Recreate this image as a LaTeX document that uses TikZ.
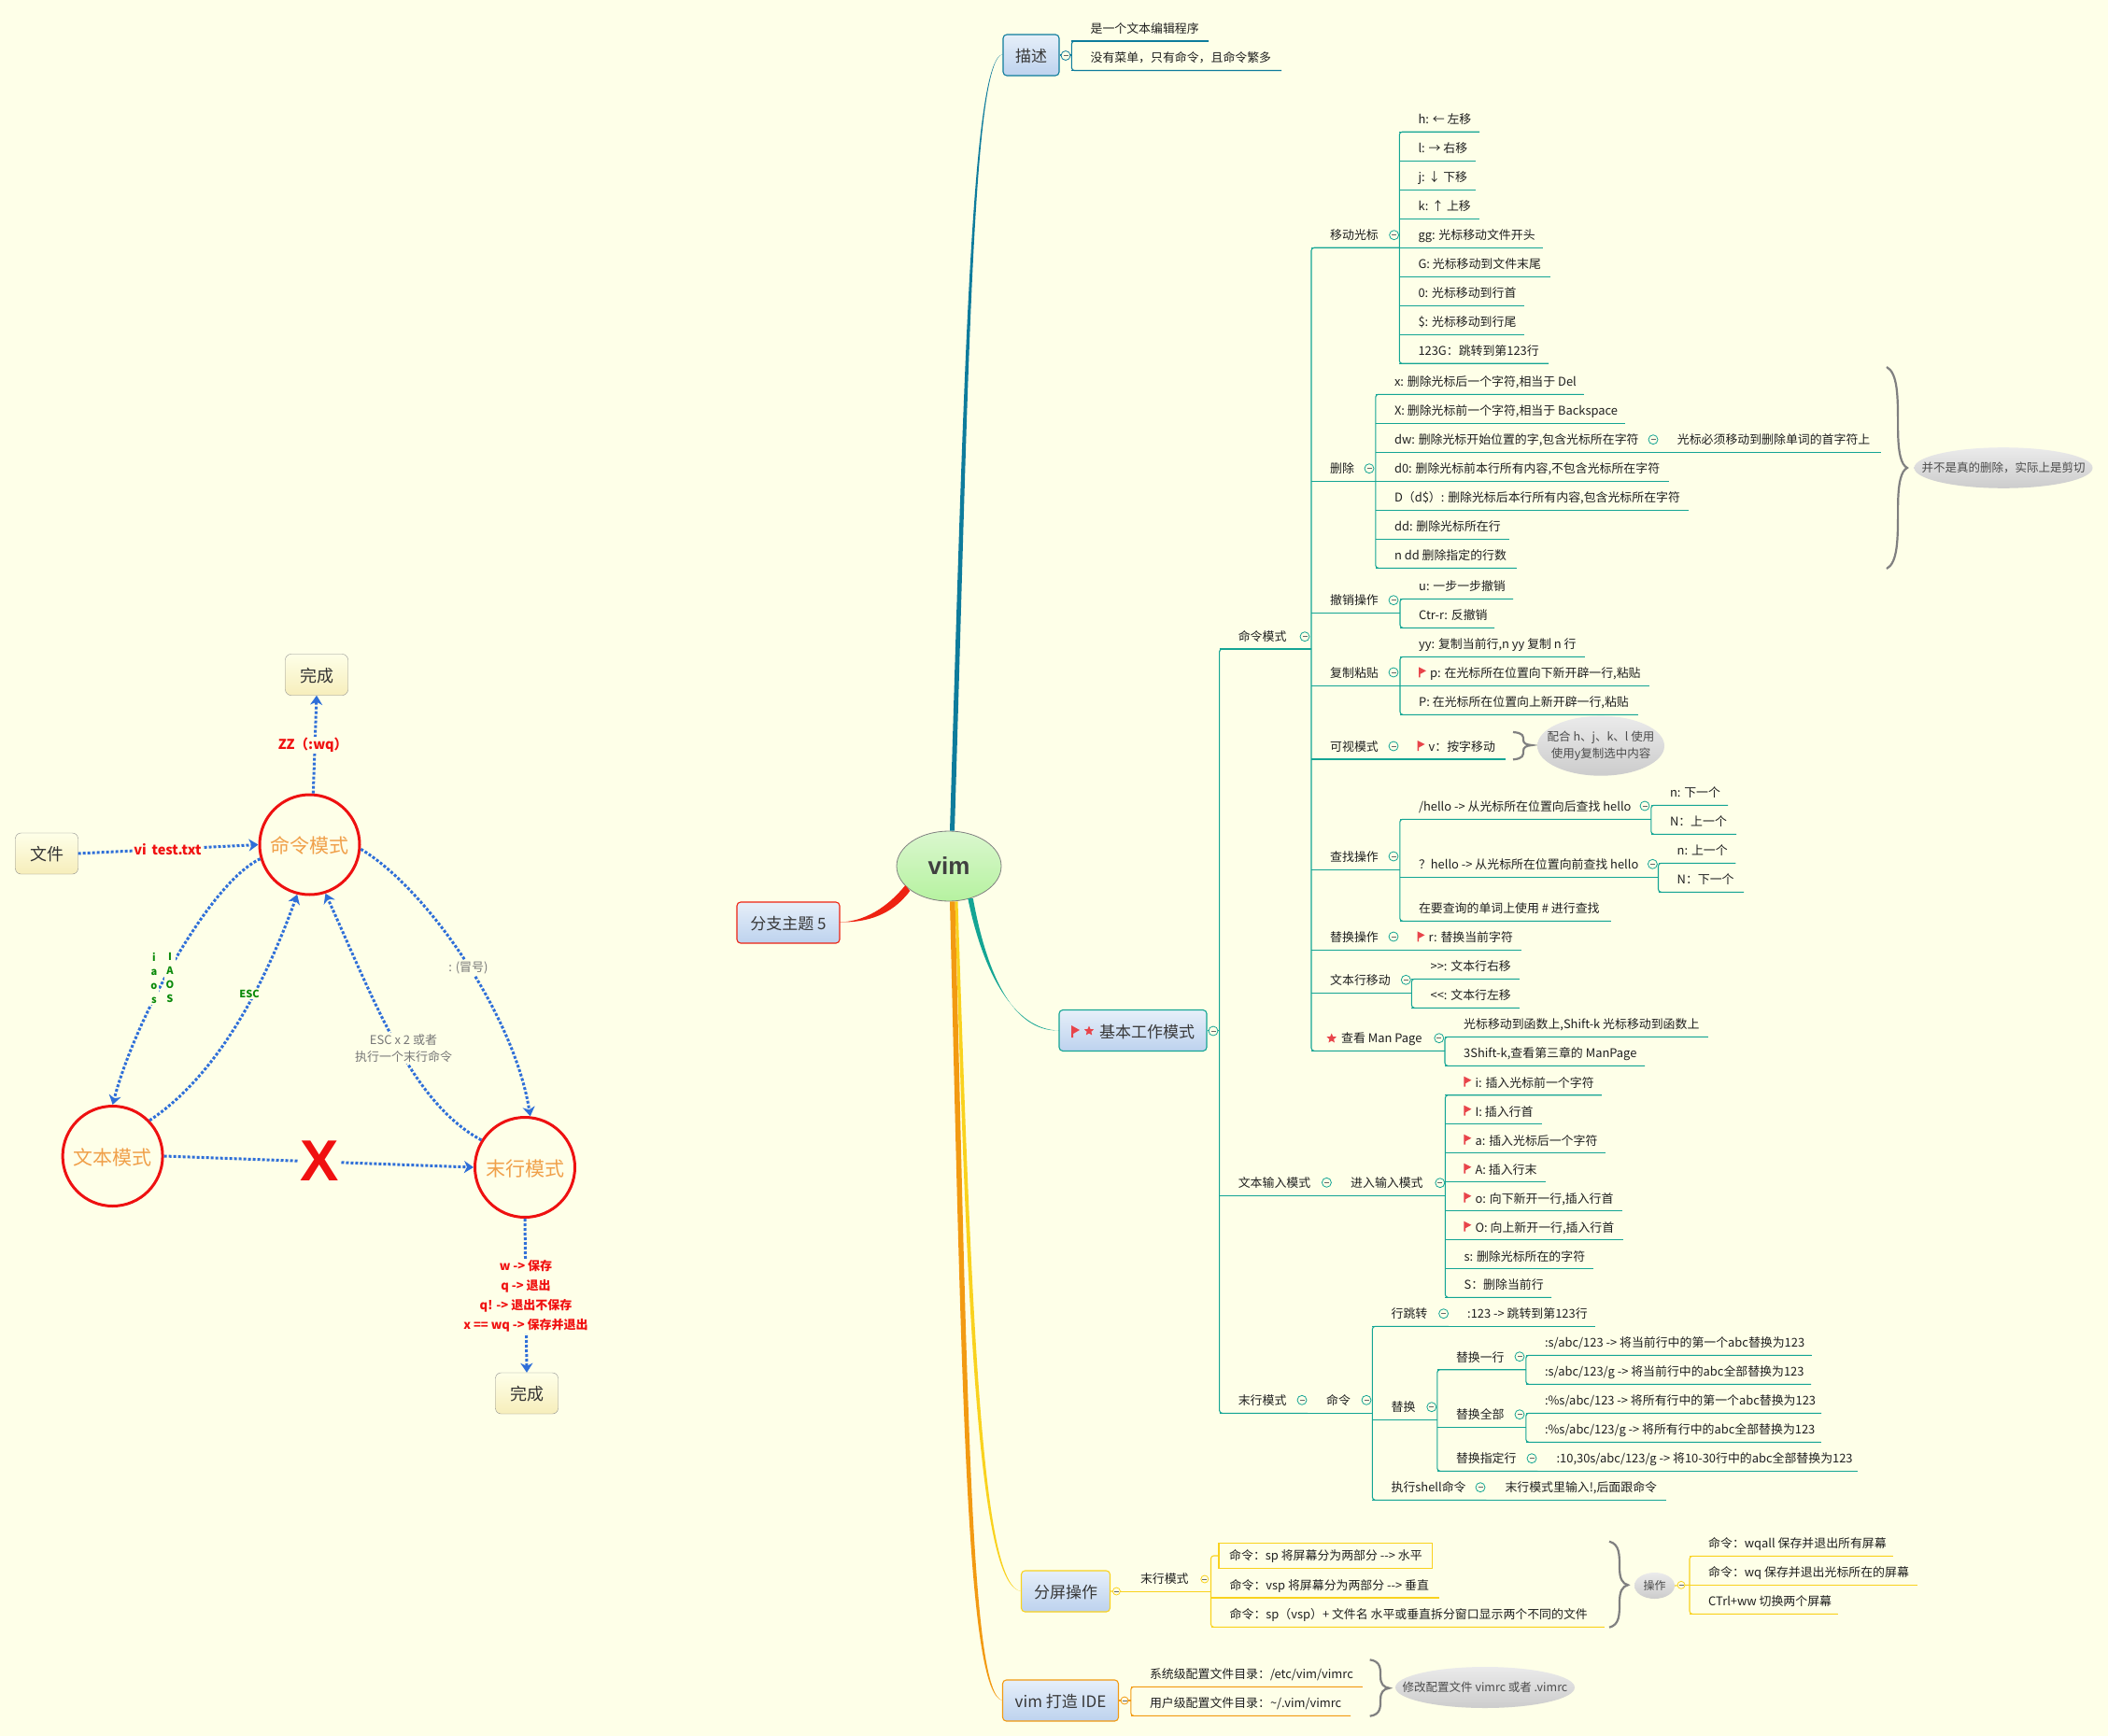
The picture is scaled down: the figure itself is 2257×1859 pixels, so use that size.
\documentclass[tikz,border=0pt]{standalone}
\usepackage{fontspec}
\setmainfont{Noto Sans CJK SC}
\newfontfamily\latinbold{Liberation Sans}
\usetikzlibrary{shapes.geometric,arrows.meta}
\definecolor{paper}{HTML}{FEFFE8}
\definecolor{flowblue}{HTML}{2F6FD8}
\definecolor{ringred}{HTML}{EE1111}
\definecolor{hotred}{HTML}{F01010}
\definecolor{modeorange}{HTML}{F0A04A}
\definecolor{okgreen}{HTML}{0A8A0A}
\definecolor{softgray}{HTML}{777777}
\definecolor{bluebranch}{HTML}{0E7C9C}
\definecolor{tealbranch}{HTML}{14A594}
\definecolor{yellowbranch}{HTML}{F9D21E}
\definecolor{orangebranch}{HTML}{F29A12}
\definecolor{redbranch}{HTML}{EE2211}
\definecolor{flagred}{HTML}{E8444A}
\definecolor{topictop}{HTML}{E6EFF9}
\definecolor{topicbottom}{HTML}{BDD2EE}
\definecolor{vimtop}{HTML}{DAF7CE}
\definecolor{vimbottom}{HTML}{B6F2A0}
\colorlet{twigcolor}{tealbranch}
\tikzset{
  twig/.style={draw=twigcolor,line width=1.1pt},
  leaftext/.style={anchor=west,inner sep=0pt,text=black!88,text height=10pt,text depth=3pt,
    font=\fontsize{12.9}{16}\selectfont},
  fold/.style={circle,draw=twigcolor,fill=paper,line width=.8pt,minimum size=10pt,inner sep=0pt,
    path picture={\draw[black!60,line width=.6pt] ([xshift=-2.5pt]path picture bounding box.center)
      -- ([xshift=2.5pt]path picture bounding box.center);}},
  topic/.style={rectangle,rounded corners=4pt,draw=twigcolor,line width=1.1pt,top color=topictop,
    bottom color=topicbottom,minimum height=44pt,inner sep=0pt,text=black!78,text height=15pt,text depth=0pt,
    font=\fontsize{17}{20}\selectfont},
  callout/.style={ellipse,top color=black!8,bottom color=black!20,inner sep=0pt},
  calltext/.style={inner sep=0pt,text=black!70,align=center,font=\fontsize{12.5}{18}\selectfont},
  sumbrace/.style={draw=black!50,line width=2.2pt},
  smallbox/.style={rectangle,rounded corners=6pt,draw=black!45,top color=paper,bottom color=yellow!55!brown!30!white,
    minimum width=67pt,minimum height=44pt,inner sep=0pt,text=black!80,text height=15.7pt,text depth=0pt,
    font=\fontsize{18}{20}\selectfont},
  modering/.style={circle,draw=ringred,line width=3pt,minimum size=107pt,inner sep=0pt,text=modeorange,
    text height=18pt,text depth=0pt,font=\fontsize{21}{24}\selectfont},
  flow/.style={draw=flowblue,line width=3pt,dash pattern=on 3pt off 2pt,
    -{Stealth[inset=3pt,length=10pt,width=13pt]}},
  lab/.style={fill=paper,inner sep=1.5pt,align=center},
  redlab/.style={lab,text=hotred,font=\bfseries\fontsize{14.5}{21}\selectfont},
  smallred/.style={lab,text=hotred,font=\bfseries\fontsize{13}{21}\selectfont},
  greenlab/.style={lab,text=okgreen,font=\bfseries\fontsize{11}{15}\selectfont},
  graylab/.style={lab,text=softgray,font=\fontsize{13}{18}\selectfont},
  starmark/.style={star,star points=5,star point ratio=2.2,fill=flagred,minimum size=11pt,inner sep=0pt}
}
\newcommand{\leafnode}[5]{%
  \coordinate (#1s) at (#2,#3);
  \coordinate (#1e) at (#4,#3);
  \draw[twig] (#1s) -- (#1e);
  \node[leaftext] (#1) at ({#2+20},{#3-12}) {#5};
}
\newcommand{\flagmark}[2]{%
  \fill[flagred] ({#1},{#2-7}) -- ({#1+8},{#2-3}) -- ({#1+1.6},{#2+.5}) -- ({#1+1.6},{#2+4}) -- ({#1},{#2+4}) -- cycle;
}
\newcommand{\flagleaf}[5]{%
  \leafnode{#1}{#2}{#3}{#4}{\hspace*{12pt}#5}
  \flagmark{#2+20}{#3-13}
}
\newcommand{\twigspine}[2]{%
  \draw[twig,rounded corners=3pt] (#1e) -- (#1s) -- (#2s) -- (#2e);
}
% x start, x tip, y top, y tip, y bottom
\newcommand{\sumcurve}[5]{%
  \draw[sumbrace] (#1,#3) .. controls ({#1+.55*(#2-#1)},{#3+.06*(#4-#3)}) and ({#1+.55*(#2-#1)},{#3+.3*(#4-#3)})
    .. ({#1+.55*(#2-#1)},{#3+.6*(#4-#3)}) .. controls ({#1+.55*(#2-#1)},{#3+.85*(#4-#3)}) and ({#1+.7*(#2-#1)},{#4-.03*(#4-#3)})
    .. (#2,#4) .. controls ({#1+.7*(#2-#1)},{#4+.03*(#5-#4)}) and ({#1+.55*(#2-#1)},{#4+.15*(#5-#4)})
    .. ({#1+.55*(#2-#1)},{#4+.4*(#5-#4)}) .. controls ({#1+.55*(#2-#1)},{#4+.7*(#5-#4)}) and ({#1+.55*(#2-#1)},{#4+.94*(#5-#4)})
    .. (#1,#5);
}
\begin{document}
\begin{tikzpicture}[x=1pt,y=-1pt]
\fill[paper] (0,0) rectangle (2257,1859);
\useasboundingbox (0,0) rectangle (2257,1859);

\node[smallbox] (done1) at (339,722.5) {完成};
\node[smallbox] (filebox) at (50,914) {文件};
\node[modering] (cmdm) at (331.5,904.5) {命令模式};
\node[modering] (txtm) at (120.6,1238) {文本模式};
\node[modering] (endm) at (562,1250) {末行模式};
\node[smallbox] (done2) at (564,1492) {完成};
\draw[flow] (cmdm.86) -- (done1.south);
\draw[flow] (filebox.east) -- (cmdm.west);
\draw[flow] (cmdm.196) .. controls (225,945) and (145,1090) .. (txtm.north);
\draw[flow] (txtm.44) .. controls (235,1150) and (285,1050) .. (cmdm.256);
\draw[flow] (endm.148) .. controls (440,1180) and (400,1070) .. (cmdm.288);
\draw[flow] (cmdm.355) .. controls (455,950) and (550,1085) .. (endm.84);
\draw[flow] (txtm.east) -- (endm.west);
\draw[flow] (endm.south) -- (done2.north);
\node[redlab] (zzlab) at (335,798) {ZZ（:wq）};
\node[redlab] (vilab) at (179.5,910) {vi\, test.txt};
\node[greenlab] (insl) at (165,1047) {i\\a\\o\\s};
\node[greenlab] (insr) at (182,1047) {I\\A\\O\\S};
\node[greenlab] (esclab) at (267,1064.5) {ESC};
\node[graylab] (colonlab) at (501.5,1036.5) {: (冒号)};
\node[graylab] (esc2lab) at (432,1122.7) {ESC x 2 或者\\执行一个末行命令};
\node[smallred] (savelab) at (563,1388) {w -> 保存\\q -> 退出\\q! -> 退出不保存\\x == wq -> 保存并退出};
\node[lab,text=hotred,font=\latinbold\bfseries\fontsize{62}{62}\selectfont] (xmark) at (342,1243) {X};

\node[ellipse,draw=black!50,line width=.8pt,top color=vimtop,bottom color=vimbottom,
  minimum width=112pt,minimum height=75pt,inner sep=0pt,text=black!75,
  font=\latinbold\bfseries\fontsize{26}{28}\selectfont] (vim) at (1016,927.5) {vim};
\fill[bluebranch] ([xshift=1pt]vim.north) .. controls (1032,400) and (1040,60) .. (1074,58)
  .. controls (1041,61) and (1037,400) .. ([xshift=6pt]vim.north) -- cycle;
\fill[tealbranch] ([xshift=-3pt]vim.-56) .. controls (1052,1040) and (1085,1103) .. (1134,1103.5)
  .. controls (1085,1105) and (1057,1045) .. ([xshift=2.5pt]vim.-56) -- cycle;
\fill[yellowbranch] ([xshift=6.5pt]vim.south) .. controls (1036,1450) and (1050,1700) .. (1093.6,1704)
  .. controls (1053,1700) and (1041,1450) .. ([xshift=9.5pt]vim.south) -- cycle;
\fill[orangebranch] ([xshift=1pt]vim.south) .. controls (1030,1500) and (1035,1815) .. (1073.5,1821)
  .. controls (1039,1815) and (1036,1500) .. ([xshift=6.5pt]vim.south) -- cycle;
\fill[redbranch] ([shift={(-2.5pt,3pt)}]vim.208) .. controls (950,972) and (925,987) .. (899,987.5)
  .. controls (928,988) and (955,980) .. ([shift={(2.5pt,-3pt)}]vim.208) -- cycle;

\colorlet{twigcolor}{redbranch}
\node[topic,minimum width=110pt] (topic5) at (844,988) {分支主题 5};

\colorlet{twigcolor}{bluebranch}
\node[topic,minimum width=60pt] (desc) at (1104,59) {描述};
\leafnode{de1}{1147.4}{44}{1294}{是一个文本编辑程序}
\leafnode{de2}{1147.4}{75.5}{1372}{没有菜单，只有命令，且命令繁多}
\twigspine{de1}{de2}
\draw[twig] (desc.east) -- (1147.4,59);
\node[fold] (fde) at (1141,59.5) {};

\colorlet{twigcolor}{tealbranch}
\node[topic,minimum width=158pt] (work) at (1213,1103.5) {\hspace*{30pt}基本工作模式};
\fill[flagred] (1147,1098) -- (1156,1103) -- (1149,1107) -- (1149,1111) -- (1147,1111) -- cycle;
\node[starmark] (workstar) at (1166,1104) {};
\draw[twig] (work.east) -- (1305.6,1103.5);
\node[fold] (fwork) at (1299,1104) {};

\leafnode{cm}{1305.6}{695}{1404}{命令模式}
\leafnode{ti}{1305.6}{1280.3}{1426}{文本输入模式}
\leafnode{em}{1305.6}{1513.3}{1400}{末行模式}
\twigspine{cm}{em}
\node[fold] (fcm) at (1397,681.7) {};
\node[fold] (fti) at (1420.4,1266.3) {};
\node[fold] (fem) at (1394,1499.3) {};

\leafnode{mv}{1404}{265.3}{1498.3}{移动光标}
\leafnode{dl}{1404}{515.3}{1472.8}{删除}
\leafnode{un}{1404}{656.3}{1499}{撤销操作}
\leafnode{cp}{1404}{734.3}{1499}{复制粘贴}
\leafnode{vs}{1404}{813}{1497.5}{可视模式}
\leafnode{fd}{1404}{931.3}{1498.8}{查找操作}
\leafnode{rp}{1404}{1017.3}{1497.5}{替换操作}
\leafnode{ln}{1404}{1063.3}{1511.4}{文本行移动}
\leafnode{mp}{1404}{1125.3}{1547}{\hspace*{12pt}查看 Man Page}
\node[starmark] (mpstar) at (1425.7,1112) {};
\twigspine{mv}{mp}
\node[fold] (fmv) at (1492.6,251.7) {};
\node[fold] (fdl) at (1466,501.7) {};
\node[fold] (fun) at (1492,642.7) {};
\node[fold] (fcp) at (1492,720) {};
\node[fold] (fvs) at (1492,799) {};
\node[fold] (ffd) at (1492,917) {};
\node[fold] (frp) at (1492,1003) {};
\node[fold] (fln) at (1505.3,1049.3) {};
\node[fold] (fmp) at (1540.8,1111.7) {};

\leafnode{mv1}{1498.3}{141.3}{1584}{h: ← 左移}
\leafnode{mv2}{1498.3}{172.3}{1580}{l: → 右移}
\leafnode{mv3}{1498.3}{203.3}{1580}{j: ↓ 下移}
\leafnode{mv4}{1498.3}{234.3}{1584}{k: ↑ 上移}
\leafnode{mv5}{1498.3}{265.3}{1652}{gg: 光标移动文件开头}
\leafnode{mv6}{1498.3}{296.3}{1660}{G: 光标移动到文件末尾}
\leafnode{mv7}{1498.3}{327.3}{1632}{0: 光标移动到行首}
\leafnode{mv8}{1498.3}{358.3}{1632}{\$: 光标移动到行尾}
\leafnode{mv9}{1498.3}{389.3}{1658}{123G：跳转到第123行}
\twigspine{mv1}{mv9}

\leafnode{dl1}{1472.8}{422.3}{1695.6}{x: 删除光标后一个字符,相当于 Del}
\leafnode{dl2}{1472.8}{453.3}{1740}{X: 删除光标前一个字符,相当于 Backspace}
\leafnode{dl3}{1472.8}{484.3}{1775.7}{dw: 删除光标开始位置的字,包含光标所在字符}
\leafnode{dl3a}{1775.7}{484.3}{2014}{光标必须移动到删除单词的首字符上}
\leafnode{dl4}{1472.8}{515.3}{1786.6}{d0: 删除光标前本行所有内容,不包含光标所在字符}
\leafnode{dl5}{1472.8}{546.3}{1808}{D（d\$）: 删除光标后本行所有内容,包含光标所在字符}
\leafnode{dl6}{1472.8}{577.3}{1615.6}{dd: 删除光标所在行}
\leafnode{dl7}{1472.8}{608.3}{1623.6}{n dd 删除指定的行数}
\twigspine{dl1}{dl7}
\node[fold] (fdl3) at (1770,470.7) {};
\sumcurve{2020}{2042}{393}{501}{609}
\node[callout,minimum width=191pt,minimum height=43.6pt] (dlnote) at (2145,501) {};
\node[calltext] (dlnotetext) at (dlnote) {并不是真的删除，实际上是剪切};

\leafnode{un1}{1499}{641.3}{1620}{u: 一步一步撤销}
\leafnode{un2}{1499}{672.3}{1600}{Ctr-r: 反撤销}
\twigspine{un1}{un2}

\leafnode{cp1}{1499}{703.3}{1696.8}{yy: 复制当前行,n yy 复制 n 行}
\flagleaf{cp2}{1499}{734.3}{1765.8}{p: 在光标所在位置向下新开辟一行,粘贴}
\leafnode{cp3}{1499}{765.3}{1753.6}{P: 在光标所在位置向上新开辟一行,粘贴}
\twigspine{cp1}{cp3}

\flagleaf{vs1}{1497.5}{813}{1612}{v：按字移动}
\sumcurve{1620}{1640}{784}{798}{813.3}
\node[callout,minimum width=136pt,minimum height=64pt] (vsnote) at (1714,798.7) {};
\node[calltext] (vsnotetext) at (vsnote) {配合 h、j、k、l 使用\\使用y复制选中内容};

\leafnode{fd1}{1498.8}{877.3}{1767.8}{/hello -> 从光标所在位置向后查找 hello}
\leafnode{fd2}{1498.8}{939.3}{1775.5}{？hello -> 从光标所在位置向前查找 hello}
\leafnode{fd3}{1498.8}{986.3}{1724.5}{在要查询的单词上使用 \# 进行查找}
\twigspine{fd1}{fd3}
\node[fold] (ffd1) at (1761,863) {};
\node[fold] (ffd2) at (1769.4,925.3) {};
\leafnode{fd1a}{1767.8}{862.3}{1850}{n: 下一个}
\leafnode{fd1b}{1767.8}{893.3}{1859}{N：上一个}
\twigspine{fd1a}{fd1b}
\leafnode{fd2a}{1775.5}{924.3}{1858.4}{n: 上一个}
\leafnode{fd2b}{1775.5}{955.3}{1867}{N：下一个}
\twigspine{fd2a}{fd2b}

\flagleaf{rp1}{1497.5}{1017.3}{1629.4}{r: 替换当前字符}

\leafnode{ln1}{1511.4}{1048.3}{1626.5}{>{}>: 文本行右移}
\leafnode{ln2}{1511.4}{1079.3}{1626.5}{<{}<: 文本行左移}
\twigspine{ln1}{ln2}

\leafnode{mp1}{1547}{1110.3}{1828.6}{光标移动到函数上,Shift-k 光标移动到函数上}
\leafnode{mp2}{1547}{1141.3}{1761.2}{3Shift-k,查看第三章的 ManPage}
\twigspine{mp1}{mp2}

\leafnode{tm}{1426}{1280.3}{1547.4}{进入输入模式}
\node[fold] (ftm) at (1541.8,1266.7) {};
\flagleaf{tm1}{1547.4}{1172.7}{1714.8}{i: 插入光标前一个字符}
\flagleaf{tm2}{1547.4}{1203.7}{1651}{I: 插入行首}
\flagleaf{tm3}{1547.4}{1234.7}{1719.4}{a: 插入光标后一个字符}
\flagleaf{tm4}{1547.4}{1265.7}{1655}{A: 插入行末}
\flagleaf{tm5}{1547.4}{1296.7}{1736.7}{o: 向下新开一行,插入行首}
\flagleaf{tm6}{1547.4}{1327.7}{1737.8}{O: 向上新开一行,插入行首}
\leafnode{tm7}{1547.4}{1358.7}{1706}{s: 删除光标所在的字符}
\leafnode{tm8}{1547.4}{1389.3}{1661}{S：删除当前行}
\twigspine{tm1}{tm8}

\leafnode{ec}{1400}{1513.3}{1469.4}{命令}
\node[fold] (fec) at (1463,1499.3) {};
\leafnode{ej}{1469.4}{1420.3}{1551}{行跳转}
\leafnode{er}{1469.4}{1520.3}{1538.8}{替换}
\leafnode{es}{1469.4}{1606.3}{1591.3}{执行shell命令}
\twigspine{ej}{es}
\node[fold] (fej) at (1545.6,1406.7) {};
\node[fold] (fer) at (1532.8,1506.7) {};
\node[fold] (fes) at (1585,1592.7) {};
\leafnode{ej1}{1551}{1420.3}{1707.7}{:123 -> 跳转到第123行}
\leafnode{es1}{1591.3}{1606.3}{1783.5}{末行模式里输入!,后面跟命令}
\leafnode{r1}{1538.8}{1466.7}{1633.8}{替换一行}
\leafnode{r2}{1538.8}{1528.3}{1633.8}{替换全部}
\leafnode{r3}{1538.8}{1575.3}{1646.4}{替换指定行}
\twigspine{r1}{r3}
\node[fold] (fr1) at (1627,1452.7) {};
\node[fold] (fr2) at (1627,1514.7) {};
\node[fold] (fr3) at (1640,1561.7) {};
\leafnode{r1a}{1633.8}{1451.3}{1939.6}{:s/abc/123 -> 将当前行中的第一个abc替换为123}
\leafnode{r1b}{1633.8}{1482.3}{1939}{:s/abc/123/g -> 将当前行中的abc全部替换为123}
\twigspine{r1a}{r1b}
\leafnode{r2a}{1633.8}{1513.3}{1950}{:\%s/abc/123 -> 将所有行中的第一个abc替换为123}
\leafnode{r2b}{1633.8}{1544.3}{1949.7}{:\%s/abc/123/g -> 将所有行中的abc全部替换为123}
\twigspine{r2a}{r2b}
\leafnode{r3a}{1646.4}{1575.3}{1988.7}{:10,30s/abc/123/g -> 将10-30行中的abc全部替换为123}

\colorlet{twigcolor}{yellowbranch}
\node[topic,minimum width=95pt] (split) at (1141,1704) {分屏操作};
\leafnode{sp}{1200.8}{1704.3}{1296.5}{末行模式}
\draw[twig] (split.east) -- (sps);
\node[fold,minimum size=8pt] (fsplit) at (1195.4,1704) {};
\node[fold,minimum size=8pt] (fsp) at (1289.8,1691) {};
\node[draw=twigcolor,line width=1.1pt,minimum width=228.6pt,minimum height=27.4pt,inner sep=0pt] (sp1box) at (1419.3,1666) {};
\node[leaftext] (sp1) at (1316,1667.3) {命令：sp 将屏幕分为两部分 -{}-> 水平};
\leafnode{sp2}{1296.5}{1711}{1541}{命令：vsp 将屏幕分为两部分 -{}-> 垂直}
\leafnode{sp3}{1296.5}{1742.3}{1717.8}{命令：sp（vsp）+ 文件名 水平或垂直拆分窗口显示两个不同的文件}
\draw[twig,rounded corners=3pt] (sp1box.west) -| (sp3s) -- (sp3e);
\sumcurve{1723}{1743}{1650.7}{1697.3}{1742.7}
\node[callout,minimum width=43pt,minimum height=28pt] (opnote) at (1771.5,1698) {};
\node[calltext,font=\fontsize{12}{14}\selectfont] (opnotetext) at (opnote) {操作};
\leafnode{op1}{1809}{1666.3}{2026.6}{命令：wqall 保存并退出所有屏幕}
\leafnode{op2}{1809}{1697.3}{2052.7}{命令：wq 保存并退出光标所在的屏幕}
\leafnode{op3}{1809}{1728.3}{1967.7}{CTrl+ww 切换两个屏幕}
\twigspine{op1}{op3}
\draw[twig] (opnote.east) -- (op2s);
\node[fold,minimum size=8pt] (fop) at (1800,1697.3) {};

\colorlet{twigcolor}{orangebranch}
\node[topic,minimum width=124pt] (ide) at (1135.5,1821) {vim 打造 IDE};
\leafnode{id1}{1210.8}{1806.3}{1458.6}{系统级配置文件目录：/etc/vim/vimrc}
\leafnode{id2}{1210.8}{1837.3}{1446}{用户级配置文件目录：\textasciitilde/.vim/vimrc}
\twigspine{id1}{id2}
\draw[twig] (ide.east) -- (1210.8,1821);
\node[fold,minimum size=8pt] (fide) at (1204,1821) {};
\sumcurve{1466.7}{1487.4}{1777.3}{1807.7}{1837.7}
\node[callout,minimum width=192pt,minimum height=44pt] (idnote) at (1590,1807) {};
\node[calltext] (idnotetext) at (idnote) {修改配置文件 vimrc 或者 .vimrc};
\end{tikzpicture}
\end{document}
